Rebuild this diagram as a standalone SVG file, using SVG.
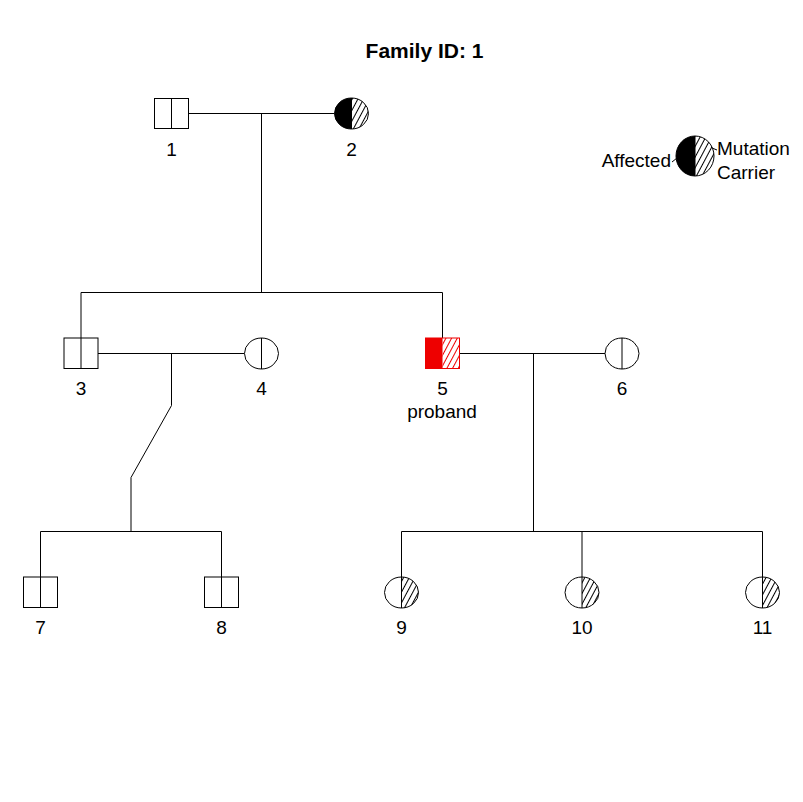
<svg xmlns="http://www.w3.org/2000/svg" width="803" height="802" viewBox="0 0 803 802">
<style>
.ln{stroke:#000;stroke-width:1;fill:none}
.sh{stroke:#000;stroke-width:1;fill:#fff}
.t{font-family:"Liberation Sans",Arial,sans-serif;font-size:19px;fill:#000;text-anchor:middle}
.title{font-family:"Liberation Sans",Arial,sans-serif;font-size:21px;font-weight:bold;fill:#000;text-anchor:middle}
</style>
<defs>
<pattern id="hatch" patternUnits="userSpaceOnUse" width="5" height="10" patternTransform="rotate(28)">
<line x1="2.5" y1="0" x2="2.5" y2="10" stroke="#000" stroke-width="1" shape-rendering="crispEdges"/>
</pattern>
<pattern id="hatchR" patternUnits="userSpaceOnUse" width="5" height="10" patternTransform="rotate(28)">
<line x1="2.5" y1="0" x2="2.5" y2="10" stroke="#e00" stroke-width="1" shape-rendering="crispEdges"/>
</pattern>
</defs>
<rect width="803" height="802" fill="#fff"/>
<text class="title" x="424.5" y="58">Family ID: 1</text>

<g id="connectors">
<path class="ln" d="M188 113.5H334.5"/>
<path class="ln" d="M261.5 113.5V292.5"/>
<path class="ln" d="M81 292.5H442.5"/>
<path class="ln" d="M81 292.5V338"/>
<path class="ln" d="M442.5 292.5V338"/>
<path class="ln" d="M98 353.5H244.5"/>
<path class="ln" d="M171.5 353.5V405.5L131 477.5V531.5"/>
<path class="ln" d="M40.5 531.5H221.5"/>
<path class="ln" d="M40.5 531.5V577"/>
<path class="ln" d="M221.5 531.5V577"/>
<path class="ln" d="M459 353.5H605"/>
<path class="ln" d="M533.5 353.5V531.5"/>
<path class="ln" d="M401.5 531.5H762.5"/>
<path class="ln" d="M401.5 531.5V577"/>
<path class="ln" d="M582 531.5V577"/>
<path class="ln" d="M762.5 531.5V577"/>
</g>

<g id="n1">
<rect class="sh" x="154.5" y="98.5" width="34" height="30"/>
<line class="ln" x1="171.5" y1="98.5" x2="171.5" y2="128.5"/>
<text class="t" x="171.5" y="156">1</text>
</g>
<g id="n2">
<path d="M351.5 98 A17 15.5 0 0 0 351.5 129Z" fill="#000"/>
<path d="M351.5 98 A17 15.5 0 0 1 351.5 129Z" fill="url(#hatch)"/>
<ellipse class="ln" cx="351.5" cy="113.5" rx="17" ry="15.5"/>
<line class="ln" x1="351.5" y1="98" x2="351.5" y2="129"/>
<text class="t" x="351.5" y="156">2</text>
</g>

<g id="legend">
<path d="M695 136 A19 20 0 0 0 695 176Z" fill="#000"/>
<path d="M695 136 A19 20 0 0 1 695 176Z" fill="url(#hatch)"/>
<ellipse class="ln" cx="695" cy="156" rx="19" ry="20"/>
<line class="ln" x1="695" y1="136" x2="695" y2="176"/>
<line class="ln" x1="672" y1="162" x2="677" y2="158"/>
<line class="ln" x1="712" y1="148" x2="717" y2="150"/>
<text class="t" x="671" y="167" style="text-anchor:end">Affected</text>
<text class="t" x="717" y="155" style="text-anchor:start">Mutation</text>
<text class="t" x="717" y="179" style="text-anchor:start">Carrier</text>
</g>

<g id="n3">
<rect class="sh" x="64" y="338" width="34" height="30.5"/>
<line class="ln" x1="81" y1="338" x2="81" y2="368.5"/>
<text class="t" x="81" y="395">3</text>
</g>
<g id="n4">
<ellipse class="sh" cx="261.5" cy="353.5" rx="17" ry="15.5"/>
<line class="ln" x1="261.5" y1="338" x2="261.5" y2="369"/>
<text class="t" x="261.5" y="395">4</text>
</g>
<g id="n5">
<rect x="425.5" y="338" width="17" height="30.5" fill="#e00"/>
<rect x="442.5" y="338" width="17" height="30.5" fill="url(#hatchR)"/>
<rect x="425.5" y="338" width="34" height="30.5" fill="none" stroke="#e00" stroke-width="1"/>
<text class="t" x="442.5" y="395">5</text>
<text class="t" x="442" y="418">proband</text>
</g>
<g id="n6">
<ellipse class="sh" cx="622" cy="353.5" rx="17" ry="15.5"/>
<line class="ln" x1="622" y1="338" x2="622" y2="369"/>
<text class="t" x="622" y="395">6</text>
</g>

<g id="n7">
<rect class="sh" x="23.5" y="577" width="34" height="30.5"/>
<line class="ln" x1="40.5" y1="577" x2="40.5" y2="607.5"/>
<text class="t" x="40.5" y="634">7</text>
</g>
<g id="n8">
<rect class="sh" x="204.5" y="577" width="34" height="30.5"/>
<line class="ln" x1="221.5" y1="577" x2="221.5" y2="607.5"/>
<text class="t" x="221.5" y="634">8</text>
</g>
<g id="n9">
<ellipse cx="401.5" cy="592.5" rx="17" ry="15.5" fill="#fff"/>
<path d="M401.5 577 A17 15.5 0 0 1 401.5 608Z" fill="url(#hatch)"/>
<ellipse class="ln" cx="401.5" cy="592.5" rx="17" ry="15.5"/>
<line class="ln" x1="401.5" y1="577" x2="401.5" y2="608"/>
<text class="t" x="401.5" y="634">9</text>
</g>
<g id="n10">
<ellipse cx="582" cy="592.5" rx="17" ry="15.5" fill="#fff"/>
<path d="M582 577 A17 15.5 0 0 1 582 608Z" fill="url(#hatch)"/>
<ellipse class="ln" cx="582" cy="592.5" rx="17" ry="15.5"/>
<line class="ln" x1="582" y1="577" x2="582" y2="608"/>
<text class="t" x="582" y="634">10</text>
</g>
<g id="n11">
<ellipse cx="762.5" cy="592.5" rx="17" ry="15.5" fill="#fff"/>
<path d="M762.5 577 A17 15.5 0 0 1 762.5 608Z" fill="url(#hatch)"/>
<ellipse class="ln" cx="762.5" cy="592.5" rx="17" ry="15.5"/>
<line class="ln" x1="762.5" y1="577" x2="762.5" y2="608"/>
<text class="t" x="762.5" y="634">11</text>
</g>
</svg>
